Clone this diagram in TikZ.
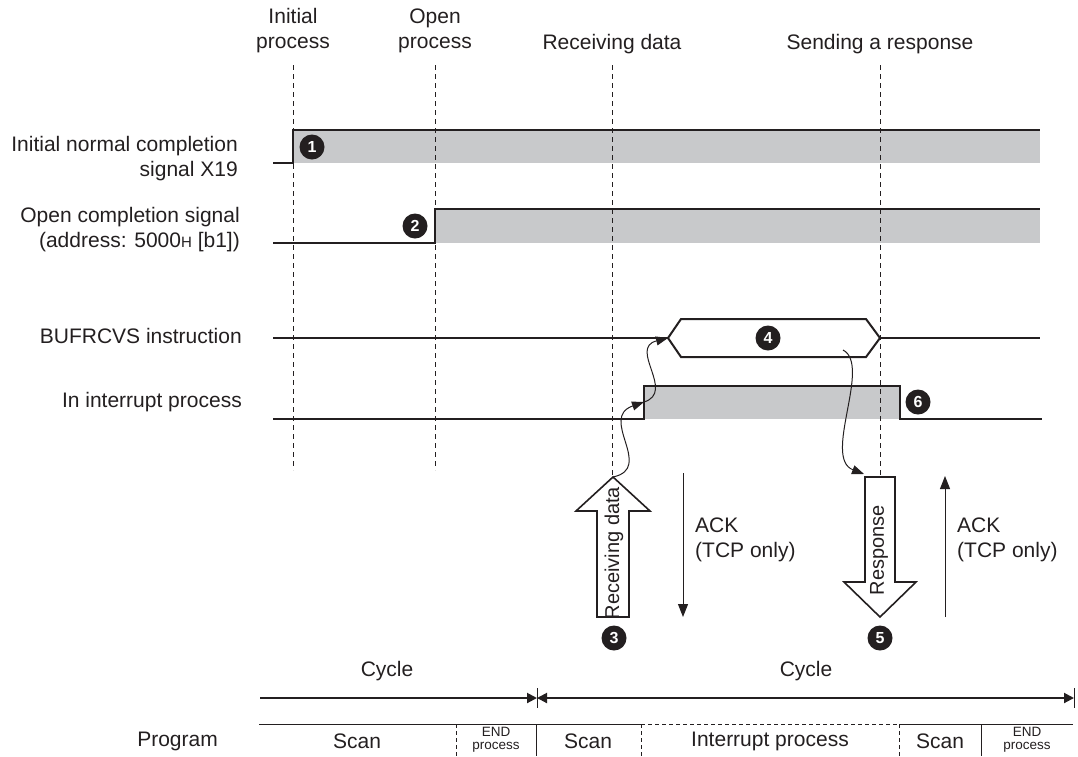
\documentclass[tikz,border=0pt]{standalone}
\usepackage{fontspec}
\setmainfont{Liberation Sans}
\usetikzlibrary{arrows.meta}
\definecolor{sig}{RGB}{200,201,203}
\definecolor{ink}{RGB}{35,31,32}
\begin{document}
\begin{tikzpicture}[x=1pt,y=-1pt,
  lbl/.style={font=\fontsize{21}{25}\selectfont, inner sep=0pt, text=ink},
  small/.style={font=\fontsize{13.5}{13}\selectfont, inner sep=0pt, text=ink, align=center},
  sigline/.style={line width=2pt, draw=ink},
  guide/.style={line width=0.9pt, dash pattern=on 5pt off 4pt, draw=ink},
  num/.style={circle, fill=ink, text=white, minimum size=25pt, inner sep=0pt, font=\fontsize{16}{16}\selectfont\bfseries},
  wave/.style={line width=1pt, draw=ink, -{Triangle[length=12pt,width=9pt]}},
  ack/.style={line width=1pt, draw=ink, -{Triangle[length=13pt,width=10pt]}},
  hollow/.style={line width=1.6pt, draw=ink, fill=white, line join=miter},
  cyc/.style={line width=2pt, draw=ink},
  cell/.style={line width=1pt, draw=ink},
  celld/.style={line width=1pt, draw=ink, dash pattern=on 4pt off 3pt}
]
\useasboundingbox (0,0) rectangle (1078,756);

% top labels
\node[lbl, align=center] (tInit) at (293,31) {Initial\\process};
\node[lbl, align=center] (tOpen) at (435,31) {Open\\process};
\node[lbl] (tRecv) at (612,44) {Receiving data};
\node[lbl] (tSend) at (880,44) {Sending a response};

% left labels
\node[lbl, anchor=east, align=right] (l1) at (238,159) {Initial normal completion\\signal X19};
\node[lbl, anchor=east, align=right] (l2) at (240,230) {Open completion signal\\(address: 5000{\fontsize{15}{15}\selectfont H} [b1])};
\node[lbl, anchor=east] (l3) at (242,336) {BUFRCVS instruction};
\node[lbl, anchor=east] (l4) at (242,402) {In interrupt process};

% signal fills
\fill[sig] (293,130) rectangle (1040,163);
\fill[sig] (435,209) rectangle (1040,243);
\fill[sig] (644,386) rectangle (900,419);

% signal lines
\draw[sigline] (273,163) -- (293,163) -- (293,130) -- (1040,130);
\draw[sigline] (273,243) -- (435,243) -- (435,209) -- (1040,209);
\draw[sigline] (273,338) -- (668,338);
\draw[sigline] (668,338) -- (681,319) -- (866,319) -- (880,338) -- (866,357) -- (681,357) -- cycle;
\draw[sigline] (880,338) -- (1040,338);
\draw[sigline] (273,419) -- (644,419) -- (644,386) -- (900,386) -- (900,419) -- (1042,419);

% hollow arrows
\draw[hollow] (613,477) -- (650,511) -- (629,511) -- (629,617) -- (597,617) -- (597,511) -- (576,511) -- cycle;
\node[lbl, rotate=90, font=\fontsize{20}{20}\selectfont] (aRecv) at (614,553) {Receiving data};
\draw[hollow] (865,477) -- (895,477) -- (895,582) -- (916,582) -- (880,617) -- (844,582) -- (865,582) -- cycle;
\node[lbl, rotate=90, font=\fontsize{20}{20}\selectfont] (aResp) at (879,550) {Response};

% guide lines
\coordinate (g1t) at (293,65); \coordinate (g1b) at (293,470);
\coordinate (g2t) at (435,65); \coordinate (g2b) at (435,470);
\coordinate (g3t) at (612,65); \coordinate (g3b) at (612,477);
\coordinate (g4t) at (880,65); \coordinate (g4b) at (880,477);
\draw[guide] (g1t) -- (g1b);
\draw[guide] (g2t) -- (g2b);
\draw[guide] (g3t) -- (g3b);
\draw[guide] (g4t) -- (g4b);

% number circles
\node[num] (n1) at (312,147) {1};
\node[num] (n2) at (415,226) {2};
\node[num] (n4) at (768,338) {4};
\node[num] (n6) at (918,402) {6};
\node[num] (n3) at (614,638) {3};
\node[num] (n5) at (880,638) {5};

% wavy arrows
\coordinate (w1s) at (613,477); \coordinate (w1e) at (644,402);
\coordinate (w2e) at (668,338);
\coordinate (w3s) at (843,350); \coordinate (w3e) at (864,474);
\draw[wave] (w1s) .. controls (655,468) and (598,418) .. (w1e);
\draw[wave] (w1e) .. controls (676,392) and (628,348) .. (w2e);
\draw[wave] (w3s) .. controls (872,365) and (822,458) .. (w3e);

% ACK arrows
\coordinate (a1s) at (683,473); \coordinate (a1e) at (683,617);
\coordinate (a2s) at (945,617); \coordinate (a2e) at (945,476);
\draw[ack] (a1s) -- (a1e);
\draw[ack] (a2s) -- (a2e);
\node[lbl, anchor=west, align=left] (ack1) at (695,540) {ACK\\(TCP only)};
\node[lbl, anchor=west, align=left] (ack2) at (957,540) {ACK\\(TCP only)};

% cycles
\node[lbl] (cy1) at (387,671) {Cycle};
\node[lbl] (cy2) at (806,671) {Cycle};
\coordinate (c0) at (260,698); \coordinate (c1) at (537,698); \coordinate (c2) at (1074,698);
\draw[cyc, -{Triangle[length=10pt,width=10pt]}] (c0) -- (c1);
\draw[cyc, {Triangle[length=10pt,width=10pt]}-{Triangle[length=10pt,width=10pt]}] (c1) -- (c2);
\draw[line width=1pt, ink] (537,688) -- (537,708);
\draw[line width=1pt, ink] (1074,688) -- (1074,708);

% program row
\node[lbl, anchor=east] (prog) at (218,741) {Program};
\draw[cell] (259,724) -- (641,724);
\draw[celld] (641,724) -- (899,724);
\draw[cell] (899,724) -- (1073,724);
\draw[celld] (456,724) -- (456,756);
\draw[cell] (536,724) -- (536,756);
\draw[celld] (641,724) -- (641,756);
\draw[celld] (899,724) -- (899,756);
\draw[cell] (981,724) -- (981,756);
\node[lbl] (s1) at (357,741) {Scan};
\node[small] (e1) at (496,740) {END\\process};
\node[lbl] (s2) at (588,741) {Scan};
\node[lbl] (ip) at (770,741) {Interrupt process};
\node[lbl] (s3) at (940,741) {Scan};
\node[small] (e2) at (1027,740) {END\\process};
\end{tikzpicture}
\end{document}
